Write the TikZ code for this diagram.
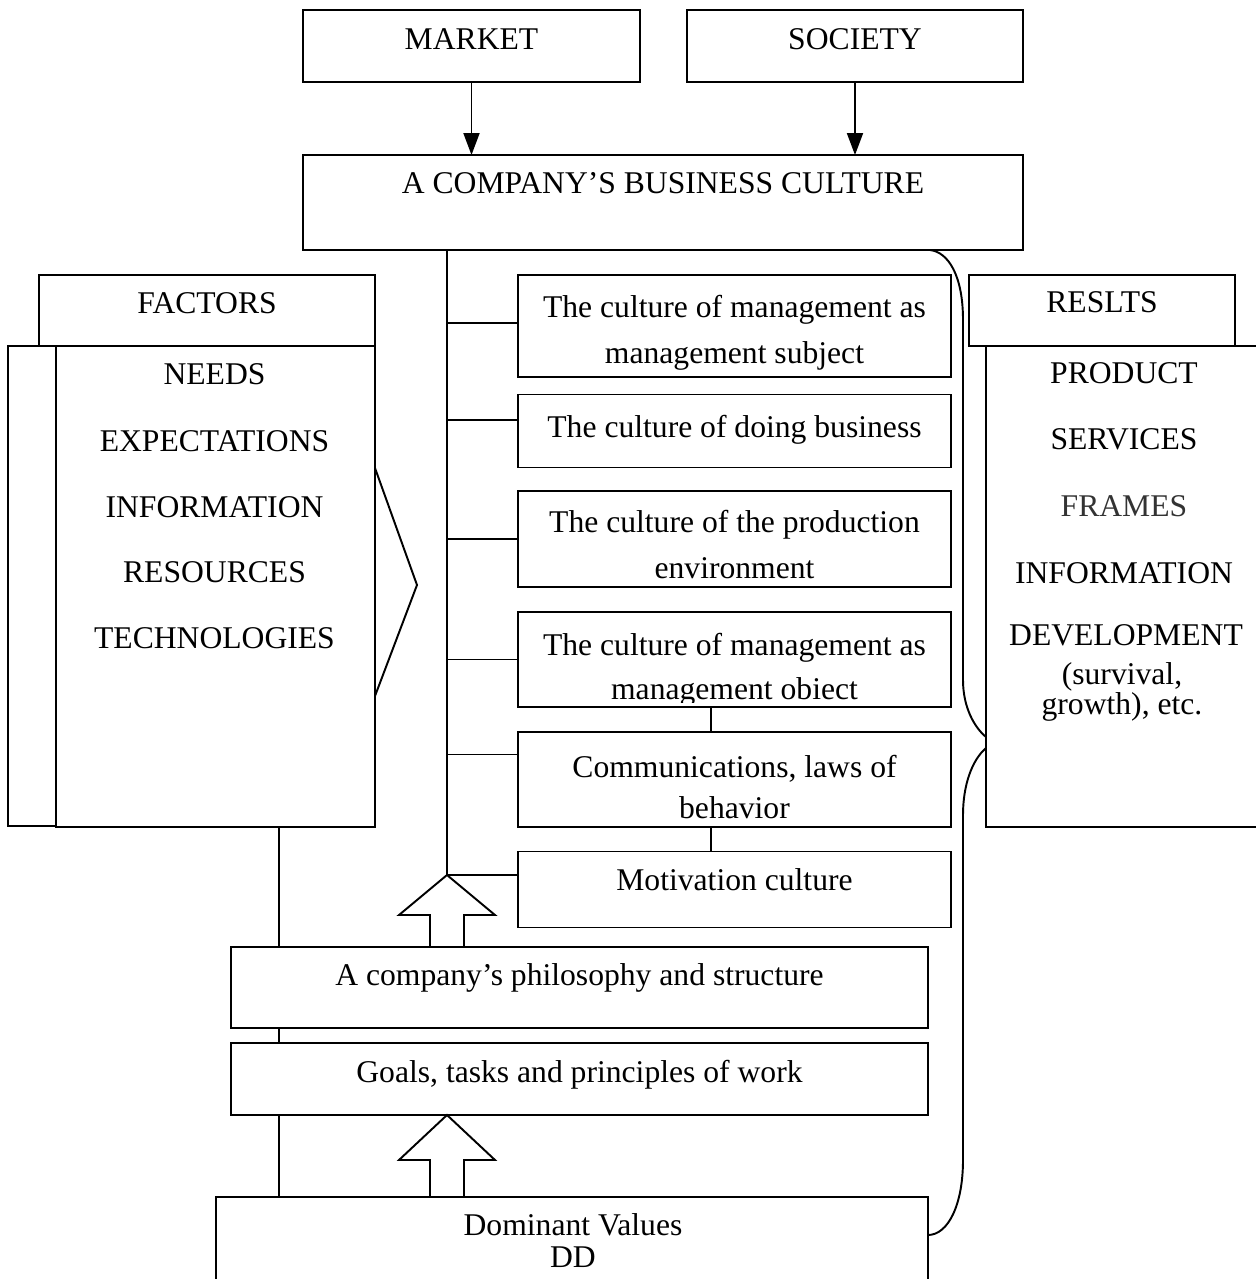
\documentclass[tikz,border=0pt]{standalone}
\usepackage{fontspec}
\setmainfont{Liberation Serif}
\usetikzlibrary{arrows.meta}
\begin{document}
\begin{tikzpicture}[x=0.02cm,y=-0.02cm,line width=1.1pt,
  box/.style={draw,rectangle,inner sep=0pt,outer sep=0pt,fill=white},
  txt/.style={anchor=base,inner sep=0pt,font=\fontsize{18}{22}\selectfont},
  arr/.style={-{Triangle[length=0.44cm,width=0.32cm]}},
  bigarrow/.style={draw,line width=1.1pt,line join=miter}]
\useasboundingbox (0,0) rectangle (1256,1279);
% ---------- top boxes
\node[box,minimum width=6.74cm,minimum height=1.44cm] (market) at (471.5,46) {};
\node[box,minimum width=6.72cm,minimum height=1.44cm] (society) at (855,46) {};
\node[box,minimum width=14.4cm,minimum height=1.9cm] (bc) at (663,202.5) {};
\node[txt] (tmarket) at (471.5,49) {MARKET};
\node[txt] (tsociety) at (855,49) {SOCIETY};
\node[txt] (tbc) at (663,193) {A COMPANY’S BUSINESS CULTURE};
\coordinate (ax1) at (471.5,0);
\coordinate (ax2) at (855,0);
\draw[arr] (market.south -| ax1) -- (bc.north -| ax1);
\draw[arr] (society.south -| ax2) -- (bc.north -| ax2);
% ---------- culture column
\node[box,minimum width=8.66cm,minimum height=2.04cm] (c1) at (734.5,326) {};
\node[box,minimum width=8.66cm,minimum height=1.46cm] (c2) at (734.5,431) {};
\node[box,minimum width=8.66cm,minimum height=1.92cm] (c3) at (734.5,539) {};
\node[box,minimum width=8.66cm,minimum height=1.9cm] (c4) at (734.5,659.5) {};
\node[box,minimum width=8.66cm,minimum height=1.9cm] (c5) at (734.5,779.5) {};
\node[box,minimum width=8.66cm,minimum height=1.52cm] (c6) at (734.5,889.5) {};
\node[txt] (t1a) at (734.5,317.5) {The culture of management as};
\node[txt] (t1b) at (734.5,363.5) {management subject};
\node[txt] (t2) at (734.5,437.5) {The culture of doing business};
\node[txt] (t3a) at (734.5,532.5) {The culture of the production};
\node[txt] (t3b) at (734.5,578.5) {environment};
\node[txt] (t4a) at (734.5,655) {The culture of management as};
\begin{scope}
  \clip (c4.north west) rectangle ([yshift=0.1cm]c4.south east);
  \node[txt] (t4b) at (734.5,699) {management obiect};
\end{scope}
\node[txt] (t5a) at (734.5,777) {Communications, laws of};
\node[txt] (t5b) at (734.5,818) {behavior};
\node[txt] (t6) at (734.5,890) {Motivation culture};
\coordinate (vx) at (711,0);
\draw (c4.south -| vx) -- (c5.north -| vx);
\draw (c5.south -| vx) -- (c6.north -| vx);
% spine and branches
\coordinate (sx) at (447,0);
\coordinate (tip1) at (447,875);
\draw (bc.south -| sx) -- (tip1);
\coordinate (b1) at ([yshift=0.06cm]c1.west);
\coordinate (b2) at ([yshift=0.22cm]c2.west);
\coordinate (b3) at (c3.west);
\coordinate (b4) at (c4.west);
\coordinate (b5) at ([yshift=0.5cm]c5.west);
\coordinate (b6) at ([yshift=0.29cm]c6.west);
\foreach \b in {b1,b2,b3,b4,b5,b6} {\draw (\b) -- (\b -| sx);}
% ---------- philosophy, goals, dominant
\node[box,minimum width=13.94cm,minimum height=1.62cm] (phil) at (579.5,987.5) {};
\node[box,minimum width=13.94cm,minimum height=1.44cm] (goals) at (579.5,1079) {};
\node[box,minimum width=14.24cm,minimum height=2.0cm] (dom) at (572,1247) {};
\node[txt] (tphil) at (579.5,985) {A company’s philosophy and structure};
\node[txt] (tgoals) at (579.5,1082) {Goals, tasks and principles of work};
\node[txt] (tdom1) at (573,1235) {Dominant Values};
\node[txt] (tdom2) at (573,1267) {DD};
% big arrows
\draw[bigarrow] (430,947) -- (430,915) -- (399,915) -- (tip1) -- (495,915) -- (464,915) -- (464,947);
\coordinate (tip2) at (447,1115);
\draw[bigarrow] (430,1197) -- (430,1160) -- (399,1160) -- (tip2) -- (495,1160) -- (464,1160) -- (464,1197);
% ---------- factors
\draw (56,346) -- (8,346) -- (8,826) -- (56,826);
\node[box,minimum width=6.72cm,minimum height=1.42cm] (fh) at (207,310.5) {};
\node[box,minimum width=6.38cm,minimum height=9.62cm] (fb) at (215.5,586.5) {};
\node[txt] (tfh) at (207,313.5) {FACTORS};
\node[txt] (f1) at (214.5,384.5) {NEEDS};
\node[txt] (f2) at (214.5,451.5) {EXPECTATIONS};
\node[txt] (f3) at (214.5,517.5) {INFORMATION};
\node[txt] (f4) at (214.5,582.5) {RESOURCES};
\node[txt] (f5) at (214.5,648.5) {TECHNOLOGIES};
\draw[line join=miter] (375,468) -- (417,585) -- (375,696);
\coordinate (lx) at (279,0);
\draw (fb.south -| lx) -- (phil.north -| lx);
\draw (phil.south -| lx) -- (goals.north -| lx);
\draw (goals.south -| lx) -- (dom.north -| lx);
% ---------- results
\node[box,minimum width=5.32cm,minimum height=1.42cm] (rh) at (1102,310.5) {};
\node[box,minimum width=5.8cm,minimum height=9.62cm] (rb) at (1131,586.5) {};
\node[txt] (trh) at (1102,312.5) {RESLTS};
\node[txt] (r1) at (1124,383.5) {PRODUCT};
\node[txt] (r2) at (1124,449.5) {SERVICES};
\node[txt,text=black!80] (r3) at (1124,516.5) {FRAMES};
\node[txt] (r4) at (1124,583.5) {INFORMATION};
\node[txt] (r5) at (1126,645) {DEVELOPMENT};
\node[txt] (r6) at (1122,684) {(survival,};
\node[txt] (r7) at (1122,714) {growth), etc.};
% ---------- brace curves
\draw (bc.south east) ++(-93,0) coordinate (cs1)
  .. controls (948,252) and (963,275) .. (963,320) -- (963,680)
  .. controls (963,708) and (975,728) .. (rb.west |- 0,737);
\draw (rb.west |- 0,748) .. controls (972,760) and (963,785) .. (963,815)
  -- (963,1160) .. controls (963,1205) and (948,1235) .. (dom.east |- 0,1235);
\end{tikzpicture}
\end{document}
